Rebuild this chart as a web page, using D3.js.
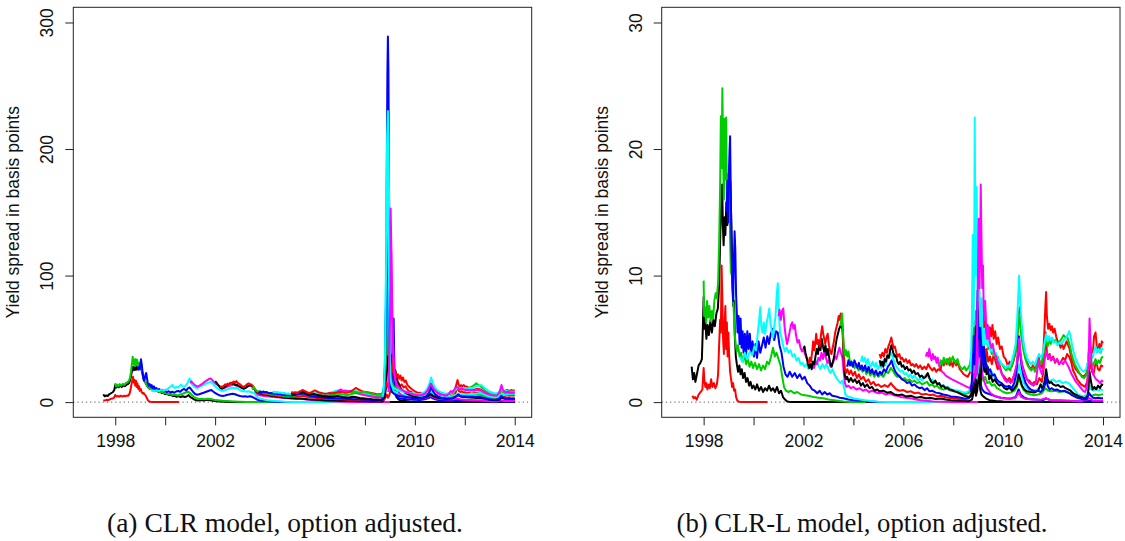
<!DOCTYPE html>
<html><head><meta charset="utf-8">
<script src="https://cdn.jsdelivr.net/npm/d3@7"></script>
<style>body{margin:0;background:#fff}svg{display:block}</style>
</head><body>
<svg id="fig" width="1125" height="541"></svg>
<script>
// ---------- Panel (a): CLR model, option adjusted (year, spread in bp) ----------
const clrBond01 = [1997.52,6.1,1997.58,4.6,1997.64,5.3,1997.7,4.8,1997.76,6.2,1997.83,7.0,1997.9,7.8,1997.96,9.5,1998.0,13.5,1998.04,11.5,1998.09,12.6,1998.14,11.8,1998.2,12.9,1998.26,12.0,1998.32,13.2,1998.38,12.6,1998.44,13.6,1998.5,14.2,1998.56,15.3,1998.61,18.5,1998.65,22.5,1998.69,26.0,1998.72,28.0,1998.75,25.2,1998.79,27.5,1998.83,25.5,1998.87,28.2,1998.91,26.0,1998.95,28.8,1998.99,26.8,1999.03,27.5,1999.07,24.0,1999.11,20.5,1999.15,17.0,1999.19,16.2,1999.23,14.5,1999.28,12.8,1999.33,11.5,1999.38,10.6,1999.44,11.2,1999.5,9.8,1999.56,10.2,1999.62,8.8,1999.68,9.2,1999.74,8.0,1999.8,8.4,1999.86,7.2,1999.92,7.5,1999.98,6.4,2000.06,6.6,2000.14,5.6,2000.22,5.9,2000.3,4.8,2000.38,5.0,2000.46,4.2,2000.54,4.8,2000.62,4.0,2000.7,4.6,2000.78,4.0,2000.86,4.4,2000.94,5.6,2001.0,4.2,2001.08,3.2,2001.16,2.2,2001.24,1.5,2001.34,1.3,2001.45,1.6,2001.56,1.2,2001.68,1.8,2001.8,1.4,2001.92,1.0,2002.05,0.6,2002.2,0.4,2002.4,0.2,2002.7,0.1,2003.0,0,2014.0,0];
const clrBond02 = [1997.52,1.6,1997.58,1.2,1997.65,1.8,1997.72,1.5,1997.8,2.4,1997.88,2.8,1997.95,3.4,1998.0,5.6,1998.05,4.4,1998.1,4.9,1998.16,4.2,1998.22,5.1,1998.28,4.4,1998.34,5.0,1998.4,4.6,1998.46,5.2,1998.52,5.0,1998.57,6.5,1998.61,9.5,1998.65,14.0,1998.68,17.0,1998.71,20.0,1998.74,15.5,1998.77,17.5,1998.8,13.0,1998.83,16.8,1998.86,12.0,1998.89,14.8,1998.92,10.5,1998.95,12.5,1998.98,9.0,1999.02,10.5,1999.06,7.8,1999.1,6.8,1999.14,7.2,1999.18,5.8,1999.22,5.2,1999.26,3.4,1999.3,1.8,1999.34,0.8,1999.4,0.3,1999.48,0.1,1999.6,0,2000.55,0];
const clrBond03 = [1998.0,15.0,1998.03,12.4,1998.08,13.8,1998.13,12.6,1998.18,14.2,1998.24,13.0,1998.3,14.4,1998.36,13.5,1998.42,15.0,1998.48,15.6,1998.54,16.6,1998.59,19.0,1998.63,24.0,1998.67,30.5,1998.7,35.9,1998.73,30.0,1998.76,33.5,1998.79,29.0,1998.82,34.0,1998.85,29.5,1998.88,33.2,1998.91,28.4,1998.95,31.0,1998.99,28.0,1999.03,29.0,1999.07,25.0,1999.11,21.5,1999.15,18.5,1999.19,16.5,1999.24,14.5,1999.3,12.2,1999.36,10.8,1999.42,11.4,1999.48,9.6,1999.55,10.0,1999.62,8.8,1999.7,9.0,1999.78,7.8,1999.86,8.2,1999.94,7.0,2000.02,7.2,2000.1,6.3,2000.2,6.6,2000.3,5.6,2000.4,5.9,2000.5,5.2,2000.6,6.0,2000.7,6.6,2000.8,7.4,2000.9,8.2,2000.97,7.6,2001.05,6.0,2001.15,4.2,2001.25,3.0,2001.35,2.4,2001.45,2.6,2001.58,2.2,2001.7,2.7,2001.82,2.4,2001.95,1.8,2002.1,1.5,2002.3,1.1,2002.5,0.8,2002.75,0.5,2003.0,0.3,2003.3,0.15,2003.6,0.05,2003.9,0,2004.5,0];
const clrBond04 = [1998.92,25.0,1998.95,28.0,1998.98,26.0,1999.01,31.0,1999.03,33.8,1999.06,30.0,1999.09,24.5,1999.12,20.0,1999.15,17.0,1999.18,18.5,1999.21,21.5,1999.24,23.0,1999.27,19.0,1999.3,15.5,1999.34,13.0,1999.38,14.2,1999.42,12.0,1999.46,13.5,1999.5,11.0,1999.55,12.4,1999.6,10.2,1999.65,11.2,1999.7,9.4,1999.76,10.4,1999.82,8.8,1999.88,9.8,1999.94,8.4,2000.0,9.0,2000.07,7.8,2000.14,8.6,2000.21,7.6,2000.28,8.2,2000.36,7.4,2000.44,8.4,2000.52,8.8,2000.6,8.2,2000.68,9.6,2000.76,10.4,2000.84,9.2,2000.92,11.0,2000.98,11.6,2001.05,9.8,2001.12,8.0,2001.2,6.4,2001.28,5.8,2001.36,6.2,2001.45,6.8,2001.54,7.4,2001.62,8.0,2001.7,8.6,2001.78,9.2,2001.85,9.6,2001.92,8.4,2002.0,7.2,2002.1,6.2,2002.2,5.2,2002.3,4.8,2002.4,5.2,2002.5,5.8,2002.6,6.2,2002.7,6.6,2002.8,6.2,2002.9,5.4,2003.0,4.8,2003.1,4.4,2003.2,4.6,2003.3,4.2,2003.4,4.6,2003.5,4.0,2003.6,3.0,2003.7,1.8,2003.85,1.1,2004.0,0.8,2004.2,0.5,2004.45,0.3,2004.7,0.15,2005.0,0.05,2005.4,0,2006.0,0];
const clrBond05 = [1999.45,9.0,1999.55,8.6,1999.65,9.4,1999.75,8.8,1999.85,9.6,1999.95,9.0,2000.03,10.0,2000.1,10.4,2000.17,11.6,2000.23,12.5,2000.28,13.6,2000.33,12.2,2000.39,11.2,2000.45,12.0,2000.52,11.6,2000.58,12.6,2000.64,13.8,2000.7,12.6,2000.76,12.0,2000.82,13.0,2000.88,14.6,2000.93,16.8,2000.98,18.7,2001.02,16.4,2001.07,14.0,2001.13,12.8,2001.2,11.6,2001.28,11.0,2001.36,11.8,2001.44,12.6,2001.52,13.4,2001.6,14.2,2001.68,15.0,2001.76,15.6,2001.83,16.2,2001.9,14.8,2001.98,13.0,2002.06,11.4,2002.14,10.2,2002.22,9.2,2002.3,8.8,2002.38,9.4,2002.46,10.0,2002.54,10.4,2002.62,11.0,2002.7,11.4,2002.78,10.8,2002.86,11.2,2002.94,10.2,2003.02,9.2,2003.1,8.6,2003.18,8.8,2003.26,8.2,2003.34,8.6,2003.42,8.0,2003.5,7.6,2003.58,6.8,2003.65,4.8,2003.72,3.4,2003.82,2.6,2003.95,2.0,2004.1,1.5,2004.3,1.0,2004.55,0.6,2004.8,0.3,2005.1,0.1,2005.5,0,2008.0,0];
const clrBond06 = [2001.0,15.0,2001.05,16.4,2001.1,15.2,2001.16,14.0,2001.22,13.0,2001.28,12.4,2001.35,12.8,2001.42,13.6,2001.5,14.6,2001.57,15.8,2001.64,16.8,2001.7,17.6,2001.76,18.4,2001.82,18.7,2001.88,17.6,2001.94,16.2,2002.0,15.0,2002.07,14.0,2002.14,13.0,2002.21,12.2,2002.28,11.4,2002.35,11.0,2002.42,11.6,2002.5,12.2,2002.58,12.8,2002.66,13.4,2002.74,13.8,2002.82,13.2,2002.9,12.6,2002.98,12.0,2003.06,11.2,2003.14,10.8,2003.22,11.4,2003.3,12.2,2003.38,12.8,2003.45,13.2,2003.52,12.0,2003.58,10.2,2003.64,7.6,2003.7,6.0,2003.78,5.4,2003.88,5.0,2004.0,4.8,2004.15,4.4,2004.3,4.1,2004.45,3.9,2004.6,3.6,2004.75,3.3,2004.9,3.1,2005.05,2.8,2005.2,2.6,2005.35,2.4,2005.5,2.5,2005.65,2.1,2005.8,1.8,2006.0,1.5,2006.2,1.2,2006.4,0.9,2006.6,0.7,2006.85,0.5,2007.1,0.3,2007.4,0.15,2007.7,0.05,2008.0,0,2009.0,0];
const clrBond07 = [2002.0,16.6,2002.04,15.8,2002.08,14.6,2002.13,13.4,2002.18,12.0,2002.23,11.0,2002.28,10.6,2002.33,11.2,2002.38,11.8,2002.43,12.6,2002.48,13.4,2002.53,14.0,2002.58,14.6,2002.63,15.2,2002.68,14.4,2002.73,15.0,2002.78,14.2,2002.83,13.4,2002.88,13.8,2002.93,12.8,2002.98,12.4,2003.04,11.6,2003.1,11.0,2003.16,10.6,2003.22,11.2,2003.28,12.2,2003.34,13.0,2003.4,13.6,2003.46,12.8,2003.52,11.6,2003.58,10.0,2003.64,8.4,2003.7,7.4,2003.77,7.0,2003.85,6.4,2003.95,6.0,2004.05,5.8,2004.15,5.4,2004.25,5.0,2004.35,4.8,2004.45,4.4,2004.55,4.2,2004.65,3.9,2004.75,3.7,2004.85,3.4,2004.95,3.2,2005.1,3.0,2005.25,2.8,2005.4,2.9,2005.55,2.6,2005.7,2.3,2005.85,2.1,2006.0,1.9,2006.2,1.7,2006.4,1.5,2006.6,1.3,2006.8,1.2,2007.0,1.0,2007.25,0.9,2007.5,0.8,2007.75,0.7,2008.0,0.6,2008.25,0.5,2008.5,0.4,2008.7,0.4,2008.8,3.0,2008.84,15.0,2008.88,50.0,2008.92,105.0,2008.95,138.0,2008.98,100.0,2009.01,55.0,2009.04,30.0,2009.08,36.0,2009.12,24.0,2009.16,14.0,2009.2,8.0,2009.26,4.0,2009.35,2.0,2009.5,1.0,2009.8,0.5,2010.2,0.2,2010.8,0.05,2011.2,0,2014.0,0];
const clrBond08 = [2002.2,11.6,2002.25,12.4,2002.3,12.0,2002.35,13.0,2002.4,14.0,2002.45,13.4,2002.5,14.6,2002.55,14.0,2002.6,15.0,2002.65,14.4,2002.7,15.6,2002.75,16.2,2002.8,15.4,2002.85,16.6,2002.9,15.2,2002.95,14.6,2003.0,14.0,2003.05,13.2,2003.1,12.4,2003.15,12.0,2003.2,12.8,2003.25,13.6,2003.3,14.4,2003.35,14.8,2003.4,14.2,2003.45,14.0,2003.5,13.0,2003.55,11.8,2003.6,10.2,2003.66,8.4,2003.72,7.6,2003.8,7.2,2003.9,6.8,2004.0,6.4,2004.1,6.0,2004.2,5.8,2004.3,5.4,2004.4,5.2,2004.5,5.0,2004.6,4.6,2004.7,4.4,2004.8,4.2,2004.9,4.0,2005.0,4.2,2005.12,4.0,2005.25,4.3,2005.38,4.5,2005.5,5.0,2005.6,4.6,2005.72,4.0,2005.85,3.6,2006.0,3.4,2006.15,3.1,2006.3,2.9,2006.45,2.7,2006.6,2.5,2006.75,2.4,2006.9,2.3,2007.05,2.2,2007.2,2.0,2007.35,1.9,2007.5,1.9,2007.65,2.1,2007.8,1.8,2008.0,1.6,2008.2,1.4,2008.4,1.2,2008.6,1.1,2008.75,1.8,2008.83,4.0,2008.88,6.0,2008.92,3.5,2008.97,5.0,2009.02,9.0,2009.06,16.0,2009.1,20.0,2009.14,13.0,2009.18,15.5,2009.23,18.0,2009.28,14.0,2009.33,15.5,2009.4,12.5,2009.47,14.0,2009.55,11.5,2009.62,12.5,2009.7,10.0,2009.78,8.5,2009.86,8.0,2009.95,6.5,2010.05,5.8,2010.15,5.2,2010.25,5.4,2010.35,5.0,2010.45,5.8,2010.55,7.0,2010.62,9.0,2010.68,8.2,2010.75,7.0,2010.85,6.0,2010.95,5.0,2011.05,4.4,2011.15,4.0,2011.25,4.2,2011.35,3.8,2011.45,4.6,2011.55,5.4,2011.62,7.0,2011.68,9.8,2011.72,11.0,2011.77,8.6,2011.82,8.0,2011.88,8.6,2011.94,7.6,2012.0,7.8,2012.08,7.0,2012.16,7.4,2012.24,6.8,2012.32,7.0,2012.4,7.4,2012.48,7.0,2012.56,7.6,2012.64,7.2,2012.72,6.4,2012.8,5.4,2012.88,4.6,2012.96,4.0,2013.04,3.6,2013.12,3.2,2013.2,3.0,2013.28,2.8,2013.36,3.4,2013.44,5.0,2013.5,6.0,2013.56,5.0,2013.62,4.8,2013.7,5.6,2013.78,5.0,2013.86,5.4,2013.94,5.2,2014.0,5.5];
const clrBond09 = [2003.48,10.0,2003.52,11.2,2003.55,12.0,2003.59,10.6,2003.63,9.4,2003.68,8.8,2003.74,8.4,2003.8,8.6,2003.88,7.8,2003.96,7.4,2004.05,7.0,2004.15,6.6,2004.25,6.2,2004.35,6.0,2004.45,5.8,2004.55,5.4,2004.65,5.2,2004.75,4.9,2004.85,4.6,2004.95,4.5,2005.05,4.8,2005.15,5.0,2005.25,5.4,2005.35,5.8,2005.45,6.2,2005.52,6.6,2005.6,6.0,2005.7,5.4,2005.8,5.0,2005.9,5.2,2006.0,5.8,2006.1,6.2,2006.2,5.8,2006.3,5.4,2006.4,5.0,2006.5,5.2,2006.6,5.6,2006.7,6.0,2006.8,6.4,2006.9,6.8,2007.0,6.4,2007.1,6.0,2007.2,5.8,2007.3,5.6,2007.4,6.0,2007.5,6.6,2007.6,7.2,2007.7,7.0,2007.8,6.4,2007.9,6.0,2008.0,5.8,2008.1,5.4,2008.2,5.0,2008.3,4.8,2008.4,4.6,2008.5,4.4,2008.6,4.6,2008.7,5.4,2008.78,9.0,2008.83,22.0,2008.87,40.0,2008.9,55.0,2008.93,40.0,2008.97,22.0,2009.01,14.0,2009.06,12.0,2009.12,9.0,2009.2,7.4,2009.3,6.4,2009.42,5.8,2009.55,5.2,2009.7,4.6,2009.85,4.2,2010.0,3.8,2010.15,3.6,2010.3,3.8,2010.45,4.4,2010.55,5.6,2010.63,7.0,2010.7,6.2,2010.8,5.0,2010.92,4.2,2011.05,3.6,2011.2,3.2,2011.35,3.4,2011.5,3.8,2011.62,4.6,2011.72,5.6,2011.8,5.0,2011.9,5.2,2012.0,5.0,2012.12,5.2,2012.24,5.4,2012.36,5.8,2012.46,6.2,2012.56,5.8,2012.66,5.4,2012.76,4.6,2012.86,3.8,2012.96,3.2,2013.08,2.8,2013.2,2.5,2013.32,2.6,2013.44,3.6,2013.52,3.2,2013.62,3.0,2013.74,3.4,2013.86,3.2,2014.0,3.4];
const clrBond10 = [2003.75,7.0,2003.8,8.2,2003.86,7.6,2003.92,8.4,2003.98,7.8,2004.05,8.0,2004.12,7.4,2004.2,7.0,2004.28,7.2,2004.36,6.6,2004.44,6.8,2004.52,6.2,2004.6,6.4,2004.68,5.8,2004.76,6.0,2004.84,5.4,2004.92,5.6,2005.0,5.2,2005.1,5.4,2005.2,5.6,2005.3,6.0,2005.4,6.4,2005.5,7.0,2005.58,6.4,2005.66,5.8,2005.75,5.2,2005.85,4.8,2005.95,4.6,2006.05,4.2,2006.15,4.0,2006.25,3.8,2006.35,3.6,2006.45,3.4,2006.55,3.3,2006.65,3.2,2006.75,3.2,2006.85,3.0,2006.95,3.1,2007.1,2.8,2007.25,2.6,2007.4,2.5,2007.55,2.3,2007.7,2.2,2007.85,2.0,2008.0,1.9,2008.15,1.8,2008.3,1.6,2008.45,1.5,2008.6,1.5,2008.7,2.0,2008.75,5.0,2008.79,15.0,2008.83,45.0,2008.86,120.0,2008.88,200.0,2008.9,260.0,2008.92,289.0,2008.94,265.0,2008.96,200.0,2008.98,120.0,2009.0,50.0,2009.03,18.0,2009.07,10.0,2009.1,25.0,2009.13,55.0,2009.15,66.0,2009.17,40.0,2009.2,15.0,2009.25,6.0,2009.32,3.5,2009.42,2.8,2009.55,2.5,2009.7,2.2,2009.85,2.0,2010.0,1.8,2010.2,1.7,2010.4,2.2,2010.55,3.2,2010.63,4.2,2010.72,3.0,2010.85,2.0,2011.0,1.5,2011.2,1.2,2011.4,1.0,2011.6,1.2,2011.72,1.8,2011.85,1.2,2012.0,1.0,2012.2,0.9,2012.4,0.85,2012.6,0.8,2012.8,0.6,2013.0,0.4,2013.2,0.3,2013.45,0.7,2013.6,0.5,2013.8,0.5,2014.0,0.5];
const clrBond11 = [2004.3,7.6,2004.36,8.2,2004.42,7.6,2004.48,8.0,2004.55,7.4,2004.62,7.6,2004.7,7.0,2004.78,7.2,2004.86,6.6,2004.94,6.8,2005.02,6.4,2005.1,6.8,2005.2,7.2,2005.3,7.6,2005.4,8.0,2005.48,8.6,2005.55,8.8,2005.62,8.0,2005.7,7.2,2005.8,6.8,2005.9,6.6,2006.0,7.2,2006.1,7.6,2006.2,7.2,2006.3,6.8,2006.4,6.6,2006.5,6.8,2006.6,7.4,2006.7,8.0,2006.8,8.6,2006.9,9.2,2007.0,8.8,2007.1,8.4,2007.2,7.8,2007.3,7.4,2007.4,7.8,2007.5,8.4,2007.6,8.8,2007.7,8.6,2007.8,7.8,2007.9,7.2,2008.0,7.0,2008.1,6.6,2008.2,6.4,2008.3,6.0,2008.4,5.8,2008.5,5.6,2008.6,5.8,2008.7,6.8,2008.75,12.0,2008.79,30.0,2008.83,80.0,2008.86,150.0,2008.89,210.0,2008.92,230.0,2008.95,205.0,2008.97,150.0,2009.0,70.0,2009.03,28.0,2009.06,14.0,2009.1,10.0,2009.16,8.8,2009.24,7.6,2009.34,6.8,2009.46,6.0,2009.6,5.4,2009.75,5.0,2009.9,4.6,2010.05,4.2,2010.2,4.0,2010.35,4.4,2010.48,5.4,2010.56,7.0,2010.63,8.6,2010.7,7.2,2010.8,5.8,2010.92,4.8,2011.05,4.2,2011.2,3.8,2011.35,4.0,2011.5,4.6,2011.62,5.6,2011.72,6.6,2011.82,6.0,2011.92,6.2,2012.02,6.0,2012.14,6.2,2012.26,6.4,2012.38,6.6,2012.5,6.8,2012.62,7.2,2012.7,6.8,2012.8,5.8,2012.9,5.0,2013.0,4.4,2013.12,4.0,2013.24,3.8,2013.36,4.4,2013.46,7.0,2013.54,5.6,2013.64,5.8,2013.74,6.4,2013.86,6.2,2014.0,6.5];
const clrBond12 = [2006.9,8.4,2006.96,9.2,2007.02,10.0,2007.08,9.4,2007.14,8.8,2007.22,9.2,2007.3,8.6,2007.38,8.8,2007.46,8.2,2007.55,7.6,2007.65,7.2,2007.75,6.8,2007.85,6.2,2007.95,5.8,2008.05,5.2,2008.15,4.8,2008.25,4.4,2008.35,4.0,2008.45,3.8,2008.55,3.6,2008.65,3.6,2008.74,4.5,2008.82,12.0,2008.88,30.0,2008.93,70.0,2008.97,110.0,2009.0,140.0,2009.03,153.0,2009.06,120.0,2009.09,80.0,2009.12,50.0,2009.16,30.0,2009.21,18.0,2009.28,11.0,2009.38,7.0,2009.5,5.0,2009.65,4.0,2009.8,3.4,2010.0,3.0,2010.2,2.8,2010.4,3.2,2010.55,4.2,2010.63,5.6,2010.72,4.2,2010.85,3.0,2011.0,2.5,2011.2,2.2,2011.4,2.0,2011.6,2.2,2011.72,2.8,2011.85,2.0,2012.0,1.8,2012.25,1.6,2012.5,1.4,2012.75,1.1,2013.0,0.7,2013.25,0.5,2013.46,1.5,2013.6,0.8,2013.8,0.8,2014.0,0.8];
const clrBond13 = [2005.05,7.0,2005.1,6.2,2005.15,6.8,2005.2,6.4,2005.26,7.4,2005.32,7.0,2005.38,7.8,2005.44,7.6,2005.5,8.4,2005.56,8.0,2005.62,7.2,2005.7,6.4,2005.78,6.0,2005.86,6.4,2005.94,6.6,2006.02,6.0,2006.1,5.6,2006.2,5.2,2006.3,4.8,2006.4,4.6,2006.5,4.4,2006.6,4.2,2006.7,4.4,2006.8,4.6,2006.9,4.8,2007.0,4.4,2007.1,4.0,2007.2,3.8,2007.3,3.6,2007.4,3.8,2007.5,4.2,2007.6,4.0,2007.7,3.6,2007.8,3.2,2007.9,3.0,2008.0,2.8,2008.15,2.5,2008.3,2.2,2008.45,2.0,2008.6,1.8,2008.7,2.0,2008.78,4.0,2008.84,12.0,2008.88,24.0,2008.92,36.0,2008.96,28.0,2009.0,22.0,2009.04,26.0,2009.08,31.0,2009.11,38.0,2009.14,28.0,2009.18,22.0,2009.22,25.0,2009.27,19.0,2009.32,16.0,2009.38,13.0,2009.45,10.5,2009.52,9.0,2009.6,7.6,2009.7,6.6,2009.8,5.6,2009.9,4.8,2010.0,4.0,2010.15,3.6,2010.3,3.4,2010.45,4.0,2010.55,5.0,2010.63,6.4,2010.72,5.0,2010.85,3.8,2011.0,3.0,2011.15,2.8,2011.3,2.6,2011.45,3.0,2011.58,3.8,2011.68,4.8,2011.74,5.6,2011.82,4.4,2011.92,4.0,2012.05,3.8,2012.2,3.6,2012.35,3.4,2012.5,3.2,2012.65,3.0,2012.8,2.6,2012.95,2.0,2013.1,1.6,2013.25,1.4,2013.38,1.8,2013.46,4.0,2013.54,3.0,2013.64,2.4,2013.76,2.8,2013.88,2.5,2014.0,2.6];
const clrBond14 = [2005.05,8.0,2005.12,7.4,2005.2,7.8,2005.28,7.2,2005.36,8.2,2005.44,8.8,2005.5,9.6,2005.56,9.0,2005.62,8.4,2005.7,7.6,2005.78,7.2,2005.86,7.8,2005.94,8.6,2006.0,9.2,2006.06,8.6,2006.14,7.8,2006.22,7.4,2006.3,7.0,2006.4,6.6,2006.5,6.8,2006.6,7.2,2006.7,7.0,2006.8,7.4,2006.9,7.8,2007.0,8.2,2007.1,7.8,2007.2,7.4,2007.3,7.6,2007.4,8.2,2007.5,9.2,2007.58,10.4,2007.64,11.2,2007.7,10.4,2007.78,9.6,2007.86,8.8,2007.95,8.2,2008.05,8.0,2008.15,7.6,2008.25,7.2,2008.35,6.8,2008.45,6.4,2008.55,6.2,2008.65,6.2,2008.72,7.0,2008.78,9.0,2008.83,12.0,2008.87,16.0,2008.91,12.0,2008.95,14.0,2009.0,11.0,2009.04,16.0,2009.08,26.0,2009.11,35.0,2009.14,26.0,2009.18,21.0,2009.22,24.0,2009.27,20.0,2009.32,22.0,2009.37,18.5,2009.42,21.0,2009.47,17.0,2009.52,19.5,2009.58,16.0,2009.64,17.0,2009.7,13.5,2009.78,12.0,2009.86,10.5,2009.94,9.2,2010.04,8.0,2010.14,7.2,2010.24,7.4,2010.34,6.8,2010.44,7.8,2010.52,9.4,2010.58,11.6,2010.64,13.4,2010.7,12.0,2010.76,10.2,2010.84,9.0,2010.92,8.0,2011.0,7.2,2011.1,6.4,2011.2,5.8,2011.3,6.2,2011.4,6.8,2011.48,7.4,2011.56,8.8,2011.62,11.0,2011.67,14.5,2011.71,17.4,2011.75,14.0,2011.8,12.0,2011.85,13.4,2011.9,12.6,2011.96,13.4,2012.02,12.0,2012.08,12.4,2012.14,11.4,2012.2,10.8,2012.28,10.0,2012.36,9.8,2012.44,10.2,2012.52,10.6,2012.6,10.2,2012.68,9.4,2012.76,8.4,2012.84,7.6,2012.92,7.0,2013.0,6.6,2013.1,6.2,2013.2,5.8,2013.3,6.2,2013.38,7.4,2013.44,8.8,2013.5,9.6,2013.56,8.6,2013.62,8.8,2013.68,9.6,2013.74,9.2,2013.8,8.8,2013.86,9.6,2013.92,9.0,2014.0,9.4];
const clrBond15 = [2007.45,6.8,2007.52,7.4,2007.6,8.0,2007.68,7.8,2007.76,7.4,2007.84,7.6,2007.92,8.0,2008.0,8.2,2008.08,7.6,2008.16,7.2,2008.24,6.8,2008.32,6.4,2008.4,6.0,2008.48,5.8,2008.56,6.0,2008.64,6.2,2008.72,7.2,2008.78,12.0,2008.83,30.0,2008.87,60.0,2008.9,95.0,2008.93,70.0,2008.96,40.0,2009.0,22.0,2009.04,16.0,2009.1,14.0,2009.16,12.4,2009.24,11.0,2009.32,10.0,2009.42,9.2,2009.52,8.6,2009.64,8.0,2009.76,7.4,2009.88,6.8,2010.0,6.4,2010.12,6.2,2010.24,6.4,2010.36,7.0,2010.46,8.4,2010.54,10.4,2010.6,12.8,2010.65,14.8,2010.7,13.0,2010.76,11.0,2010.84,9.4,2010.92,8.2,2011.0,7.2,2011.1,6.6,2011.2,6.0,2011.3,5.8,2011.4,6.4,2011.5,7.2,2011.58,8.4,2011.66,10.0,2011.72,11.4,2011.8,10.4,2011.88,10.8,2011.96,10.2,2012.04,10.6,2012.12,11.0,2012.2,11.6,2012.28,12.2,2012.36,13.2,2012.42,14.2,2012.46,14.8,2012.52,13.8,2012.58,13.2,2012.66,12.0,2012.74,10.6,2012.82,9.4,2012.9,8.4,2012.98,7.6,2013.08,6.8,2013.18,6.2,2013.28,6.0,2013.38,6.8,2013.46,8.8,2013.52,8.0,2013.6,7.2,2013.7,7.6,2013.8,7.0,2013.9,7.2,2014.0,7.0];
const clrBond16 = [2008.7,2.5,2008.75,6.0,2008.8,25.0,2008.84,70.0,2008.87,120.0,2008.9,150.0,2008.93,120.0,2008.96,70.0,2008.99,30.0,2009.03,12.0,2009.08,8.0,2009.14,7.0,2009.2,6.0,2009.3,5.2,2009.42,4.6,2009.55,4.2,2009.7,3.8,2009.85,3.4,2010.0,3.0,2010.15,2.9,2010.3,3.2,2010.42,4.0,2010.5,5.4,2010.57,7.6,2010.62,10.0,2010.66,12.6,2010.7,10.0,2010.76,7.6,2010.84,5.6,2010.94,4.2,2011.05,3.4,2011.2,2.9,2011.35,2.7,2011.5,3.0,2011.6,3.8,2011.68,5.0,2011.74,6.0,2011.8,5.0,2011.9,4.6,2012.0,4.4,2012.12,4.2,2012.24,4.0,2012.36,4.1,2012.48,4.2,2012.6,4.0,2012.72,3.4,2012.84,2.8,2012.96,2.3,2013.1,2.0,2013.24,1.8,2013.36,2.4,2013.46,5.0,2013.54,3.6,2013.64,2.8,2013.76,2.6,2013.88,2.4,2014.0,2.5];
const clrBond17 = [2008.7,4.0,2008.75,8.0,2008.8,30.0,2008.84,90.0,2008.87,150.0,2008.9,180.0,2008.93,160.0,2008.96,100.0,2008.99,45.0,2009.02,20.0,2009.06,14.0,2009.1,12.0,2009.16,11.0,2009.24,10.0,2009.34,9.2,2009.46,8.6,2009.6,8.0,2009.74,7.4,2009.88,7.0,2010.0,6.6,2010.12,6.2,2010.24,6.6,2010.36,7.6,2010.46,9.4,2010.54,12.4,2010.6,15.6,2010.65,19.5,2010.69,17.0,2010.74,14.0,2010.8,11.6,2010.88,9.8,2010.96,8.6,2011.06,7.6,2011.16,7.0,2011.26,6.6,2011.36,7.0,2011.46,7.8,2011.56,8.8,2011.64,10.0,2011.72,11.6,2011.8,10.8,2011.88,11.2,2011.96,10.6,2012.04,11.0,2012.12,10.8,2012.2,11.2,2012.28,11.0,2012.36,11.6,2012.44,12.2,2012.52,12.8,2012.6,13.2,2012.66,13.6,2012.72,12.6,2012.8,11.0,2012.88,9.6,2012.96,8.6,2013.06,7.8,2013.16,7.2,2013.26,6.8,2013.36,7.6,2013.44,10.0,2013.5,9.4,2013.58,8.4,2013.68,8.8,2013.78,8.2,2013.9,8.4,2014.0,8.0];
const clrBond18 = [2008.94,8.0,2008.97,30.0,2009.0,60.0,2009.03,100.0,2009.05,120.0,2009.08,75.0,2009.11,45.0,2009.15,30.0,2009.2,20.0,2009.26,15.0,2009.33,12.4,2009.42,10.6,2009.52,9.2,2009.64,8.0,2009.78,7.0,2009.92,6.2,2010.06,5.6,2010.2,5.4,2010.32,6.0,2010.44,7.4,2010.52,9.6,2010.58,12.0,2010.64,14.6,2010.68,13.0,2010.74,10.8,2010.82,8.8,2010.9,7.4,2011.0,6.4,2011.1,5.8,2011.2,5.2,2011.3,5.6,2011.38,7.0,2011.44,8.8,2011.5,8.0,2011.56,9.2,2011.62,11.0,2011.68,12.0,2011.74,11.2,2011.8,10.2,2011.88,10.6,2011.96,10.0,2012.04,9.6,2012.12,9.8,2012.2,9.2,2012.28,9.4,2012.36,9.0,2012.44,9.6,2012.52,9.8,2012.6,9.4,2012.68,8.6,2012.76,7.8,2012.84,7.0,2012.92,6.4,2013.0,5.8,2013.1,5.4,2013.2,5.0,2013.3,5.2,2013.38,7.6,2013.44,11.0,2013.47,13.5,2013.52,10.0,2013.58,8.4,2013.66,7.8,2013.74,8.2,2013.82,7.6,2013.9,7.8,2014.0,7.5];

// ---------- Panel (b): CLR-L model, option adjusted (year, spread in bp) ----------
const clrlBond01 = [1997.52,2.8,1997.57,1.8,1997.62,2.3,1997.67,1.6,1997.73,2.2,1997.8,2.9,1997.87,3.1,1997.93,3.4,1997.97,6.0,1998.0,8.3,1998.03,5.8,1998.07,6.3,1998.11,5.0,1998.16,6.1,1998.21,5.3,1998.27,6.4,1998.33,5.5,1998.39,6.5,1998.45,6.0,1998.51,7.0,1998.57,7.4,1998.62,9.2,1998.67,13.5,1998.71,15.8,1998.74,17.2,1998.77,14.0,1998.8,12.4,1998.84,14.6,1998.87,13.2,1998.91,15.8,1998.95,14.0,1998.99,16.5,1999.03,15.2,1999.07,17.4,1999.1,15.0,1999.13,12.3,1999.16,9.0,1999.19,7.6,1999.22,8.0,1999.25,5.2,1999.29,3.6,1999.33,3.0,1999.38,2.4,1999.43,2.9,1999.48,2.2,1999.53,2.6,1999.58,1.9,1999.64,2.3,1999.7,1.6,1999.76,1.9,1999.82,1.3,1999.88,1.6,1999.94,1.1,2000.0,1.3,2000.07,1.0,2000.14,1.4,2000.22,0.9,2000.3,1.2,2000.38,0.8,2000.46,1.1,2000.54,0.9,2000.62,1.3,2000.7,0.9,2000.78,1.1,2000.86,0.8,2000.94,1.2,2001.02,0.7,2001.1,0.9,2001.18,0.4,2001.26,0.2,2001.35,0.05,2001.5,0,2014.0,0];
const clrlBond02 = [1997.55,0.5,1997.6,0.3,1997.66,0.4,1997.72,0.2,1997.8,0.6,1997.88,0.8,1997.95,1.0,1998.0,2.7,1998.03,1.7,1998.07,1.2,1998.11,1.5,1998.15,1.0,1998.2,1.4,1998.25,1.1,1998.3,1.8,1998.35,1.2,1998.41,1.5,1998.47,1.1,1998.53,1.4,1998.58,2.2,1998.62,4.5,1998.66,6.5,1998.69,5.5,1998.72,10.8,1998.75,8.0,1998.78,5.0,1998.81,3.8,1998.84,6.0,1998.87,7.6,1998.9,4.2,1998.93,6.3,1998.96,3.6,1998.99,5.5,1999.02,3.8,1999.06,2.4,1999.1,1.8,1999.14,1.2,1999.18,1.5,1999.22,0.9,1999.26,1.0,1999.3,0.4,1999.35,0.12,1999.42,0.03,1999.5,0,2000.55,0];
const clrlBond03 = [1998.0,9.6,1998.02,6.8,1998.06,7.5,1998.1,6.3,1998.14,8.0,1998.18,6.7,1998.23,7.6,1998.28,6.4,1998.33,7.2,1998.38,6.6,1998.43,8.0,1998.48,8.6,1998.53,8.2,1998.58,9.5,1998.62,12.5,1998.66,17.0,1998.69,22.6,1998.72,18.5,1998.75,24.8,1998.78,19.5,1998.81,16.0,1998.84,22.4,1998.87,17.6,1998.9,22.5,1998.93,16.5,1998.96,18.0,1998.99,15.4,1999.03,17.0,1999.06,13.0,1999.09,10.3,1999.13,10.0,1999.17,10.2,1999.2,7.6,1999.24,5.5,1999.28,4.6,1999.33,4.0,1999.38,4.5,1999.44,3.6,1999.5,3.9,1999.56,3.2,1999.63,3.7,1999.7,3.0,1999.77,3.4,1999.84,2.8,1999.91,3.2,1999.98,2.7,2000.06,3.1,2000.14,2.6,2000.22,3.0,2000.3,2.5,2000.38,2.9,2000.46,2.6,2000.54,3.2,2000.62,3.0,2000.7,3.6,2000.78,4.3,2000.85,3.6,2000.92,3.9,2001.0,3.4,2001.08,2.9,2001.15,2.0,2001.22,1.2,2001.3,0.9,2001.4,0.8,2001.5,0.9,2001.62,0.7,2001.75,0.8,2001.9,0.6,2002.05,0.55,2002.2,0.5,2002.4,0.4,2002.6,0.35,2002.8,0.3,2003.0,0.2,2003.3,0.12,2003.6,0.05,2003.9,0,2004.5,0];
const clrlBond04 = [1998.92,15.0,1998.95,17.5,1998.98,14.2,1999.01,18.0,1999.04,20.0,1999.06,21.0,1999.09,16.0,1999.12,12.0,1999.15,9.5,1999.18,8.0,1999.21,11.0,1999.24,13.5,1999.27,12.0,1999.3,8.5,1999.33,7.0,1999.36,5.5,1999.4,6.8,1999.44,4.6,1999.48,6.6,1999.52,4.3,1999.56,5.6,1999.6,3.9,1999.65,5.4,1999.7,3.7,1999.75,5.6,1999.8,4.2,1999.85,5.4,1999.9,3.9,1999.96,4.8,2000.02,3.6,2000.08,4.6,2000.14,3.5,2000.2,4.8,2000.27,3.9,2000.34,4.5,2000.41,5.1,2000.48,4.3,2000.55,5.2,2000.62,4.6,2000.69,5.4,2000.76,5.8,2000.83,4.9,2000.9,5.6,2000.97,5.5,2001.04,4.5,2001.12,3.9,2001.2,2.8,2001.28,2.2,2001.36,2.0,2001.45,2.4,2001.55,2.0,2001.65,2.3,2001.75,1.9,2001.85,2.2,2001.95,1.8,2002.05,2.0,2002.15,1.5,2002.25,1.3,2002.35,1.0,2002.45,0.9,2002.55,0.7,2002.65,0.9,2002.75,0.6,2002.85,0.8,2002.95,0.6,2003.05,0.7,2003.15,0.5,2003.3,0.45,2003.45,0.35,2003.6,0.3,2003.8,0.2,2004.0,0.15,2004.3,0.1,2004.7,0.05,2005.0,0,2006.0,0];
const clrlBond05 = [1999.45,3.6,1999.55,3.2,1999.65,3.9,1999.75,3.4,1999.85,4.0,1999.95,3.7,2000.03,4.4,2000.1,4.1,2000.16,5.3,2000.22,6.4,2000.27,7.5,2000.31,6.0,2000.36,5.5,2000.41,6.3,2000.46,5.4,2000.52,6.2,2000.58,6.8,2000.63,7.4,2000.68,6.2,2000.73,5.6,2000.78,5.1,2000.83,6.0,2000.88,6.8,2000.93,8.5,2000.97,9.4,2001.01,7.2,2001.06,5.5,2001.12,5.1,2001.18,4.5,2001.25,4.0,2001.32,4.3,2001.4,3.9,2001.48,4.1,2001.56,3.6,2001.64,3.8,2001.72,3.3,2001.8,3.5,2001.88,3.0,2001.96,3.1,2002.04,2.8,2002.12,3.0,2002.2,2.6,2002.28,2.9,2002.36,3.2,2002.44,2.8,2002.52,3.3,2002.6,2.9,2002.68,2.6,2002.76,3.0,2002.84,2.7,2002.92,3.0,2003.0,2.6,2003.08,2.3,2003.16,2.6,2003.24,2.2,2003.32,1.9,2003.4,1.7,2003.48,1.5,2003.56,1.7,2003.62,1.2,2003.68,0.6,2003.76,0.45,2003.86,0.4,2004.0,0.3,2004.2,0.22,2004.45,0.15,2004.7,0.08,2005.0,0.03,2005.4,0,2008.0,0];
const clrlBond06 = [2001.0,6.8,2001.04,7.3,2001.09,6.5,2001.14,7.2,2001.19,7.4,2001.24,6.0,2001.29,5.2,2001.34,4.6,2001.39,5.0,2001.44,5.5,2001.5,6.1,2001.55,6.3,2001.6,5.8,2001.65,6.1,2001.7,5.3,2001.76,4.7,2001.82,4.9,2001.88,4.3,2001.94,4.0,2002.0,4.2,2002.06,3.8,2002.12,3.5,2002.18,3.2,2002.24,3.0,2002.3,2.8,2002.36,3.1,2002.42,2.7,2002.48,3.2,2002.54,3.0,2002.6,3.5,2002.66,3.3,2002.72,3.9,2002.78,3.4,2002.84,4.0,2002.9,3.5,2002.96,3.1,2003.02,3.3,2003.08,2.8,2003.14,3.0,2003.2,3.2,2003.26,3.6,2003.32,3.4,2003.38,3.9,2003.44,4.3,2003.5,3.9,2003.56,3.5,2003.61,2.4,2003.66,1.5,2003.72,1.2,2003.8,1.3,2003.9,1.1,2004.0,1.2,2004.12,1.0,2004.25,1.1,2004.38,0.9,2004.5,1.0,2004.62,0.8,2004.75,0.9,2004.88,0.8,2005.0,0.7,2005.15,0.75,2005.3,0.6,2005.45,0.7,2005.6,0.55,2005.75,0.5,2005.9,0.4,2006.1,0.35,2006.3,0.3,2006.5,0.2,2006.7,0.15,2006.9,0.1,2007.2,0.05,2007.6,0.02,2008.0,0,2009.0,0];
const clrlBond07 = [2002.0,4.2,2002.04,4.4,2002.08,3.9,2002.13,3.5,2002.18,3.0,2002.23,2.7,2002.28,3.0,2002.33,2.6,2002.38,3.2,2002.43,3.0,2002.48,3.6,2002.53,4.2,2002.58,3.8,2002.63,4.6,2002.68,4.1,2002.73,5.0,2002.78,4.4,2002.83,4.0,2002.88,4.5,2002.93,3.7,2002.98,4.2,2003.03,3.5,2003.08,3.0,2003.13,2.8,2003.18,3.2,2003.23,3.6,2003.28,4.4,2003.33,5.0,2003.38,5.4,2003.43,5.8,2003.48,6.0,2003.53,6.3,2003.57,5.5,2003.61,3.5,2003.65,2.2,2003.7,1.8,2003.75,2.0,2003.82,1.6,2003.9,1.9,2003.98,1.6,2004.06,1.8,2004.14,1.5,2004.22,1.7,2004.3,1.3,2004.38,1.5,2004.46,1.2,2004.55,1.4,2004.65,1.1,2004.75,1.2,2004.85,0.9,2004.95,1.0,2005.05,0.85,2005.2,0.9,2005.35,0.75,2005.5,0.8,2005.65,0.6,2005.8,0.55,2005.95,0.6,2006.1,0.45,2006.3,0.5,2006.5,0.35,2006.7,0.4,2006.9,0.3,2007.1,0.32,2007.3,0.25,2007.5,0.28,2007.7,0.2,2007.9,0.15,2008.1,0.12,2008.35,0.1,2008.6,0.06,2008.75,0.2,2008.82,0.8,2008.87,1.6,2008.91,0.5,2008.96,0.9,2009.0,2.6,2009.04,3.0,2009.08,1.0,2009.13,0.6,2009.2,0.45,2009.3,0.3,2009.45,0.15,2009.7,0.08,2010.0,0.04,2010.5,0.02,2011.0,0,2014.0,0];
const clrlBond08 = [2002.2,3.0,2002.25,3.5,2002.3,3.2,2002.35,4.0,2002.39,4.8,2002.43,4.1,2002.47,4.6,2002.51,5.4,2002.55,4.6,2002.6,4.9,2002.65,4.4,2002.7,5.3,2002.75,6.0,2002.79,5.4,2002.83,5.0,2002.87,4.6,2002.92,5.1,2002.97,5.4,2003.02,4.5,2003.07,4.0,2003.12,3.8,2003.17,4.3,2003.22,4.8,2003.27,5.5,2003.32,5.9,2003.37,6.3,2003.41,6.8,2003.45,6.5,2003.49,7.0,2003.53,6.6,2003.57,5.8,2003.61,4.0,2003.65,2.7,2003.7,2.3,2003.76,2.6,2003.83,2.2,2003.9,2.5,2003.98,2.1,2004.06,2.4,2004.14,1.9,2004.22,2.2,2004.3,1.8,2004.4,2.0,2004.5,1.6,2004.6,1.8,2004.7,1.4,2004.8,1.6,2004.9,1.3,2005.0,1.4,2005.12,1.2,2005.25,1.35,2005.38,1.2,2005.5,1.5,2005.6,1.25,2005.72,1.0,2005.85,0.9,2006.0,0.95,2006.15,0.8,2006.3,0.85,2006.45,0.7,2006.6,0.75,2006.75,0.6,2006.9,0.65,2007.05,0.55,2007.2,0.6,2007.35,0.45,2007.5,0.5,2007.65,0.4,2007.8,0.35,2008.0,0.3,2008.2,0.25,2008.45,0.2,2008.65,0.35,2008.78,1.0,2008.84,2.2,2008.88,4.0,2008.92,2.5,2008.96,2.0,2009.0,3.2,2009.05,4.5,2009.09,5.5,2009.13,3.5,2009.18,3.0,2009.23,4.4,2009.28,3.6,2009.33,4.2,2009.4,3.2,2009.47,3.6,2009.55,3.0,2009.62,3.8,2009.7,3.2,2009.78,2.6,2009.86,2.9,2009.95,2.2,2010.05,2.0,2010.15,1.7,2010.25,1.9,2010.35,1.6,2010.45,2.2,2010.55,2.8,2010.62,4.5,2010.68,3.8,2010.75,3.0,2010.85,2.4,2010.95,1.8,2011.05,1.7,2011.15,1.4,2011.25,1.6,2011.35,1.4,2011.45,1.9,2011.55,1.6,2011.62,2.6,2011.7,5.5,2011.75,4.0,2011.8,3.4,2011.86,3.8,2011.92,3.3,2012.0,3.6,2012.08,3.1,2012.16,3.4,2012.24,3.0,2012.32,3.2,2012.4,3.5,2012.48,3.3,2012.56,3.8,2012.64,3.6,2012.72,3.2,2012.8,2.5,2012.88,2.2,2012.96,1.8,2013.04,1.6,2013.12,1.4,2013.2,1.3,2013.28,1.2,2013.36,1.6,2013.44,2.5,2013.5,3.2,2013.56,2.4,2013.62,2.2,2013.68,2.9,2013.74,3.1,2013.8,2.6,2013.86,2.5,2013.92,2.9,2014.0,2.8];
const clrlBond09 = [2003.48,6.0,2003.52,6.6,2003.55,7.0,2003.58,5.6,2003.62,4.3,2003.66,3.7,2003.7,4.1,2003.75,3.6,2003.8,4.0,2003.86,3.2,2003.92,2.9,2003.98,3.1,2004.05,2.7,2004.12,3.0,2004.2,2.5,2004.28,2.8,2004.36,2.4,2004.44,2.7,2004.52,2.2,2004.6,2.5,2004.68,2.1,2004.76,2.4,2004.84,2.0,2004.92,2.3,2005.0,2.0,2005.1,2.2,2005.2,2.0,2005.3,2.4,2005.4,2.3,2005.5,2.7,2005.58,2.5,2005.66,2.2,2005.75,2.0,2005.85,2.1,2005.95,1.8,2006.05,1.9,2006.15,1.7,2006.25,1.8,2006.35,1.6,2006.45,1.7,2006.55,1.5,2006.65,1.6,2006.75,1.4,2006.85,1.5,2006.95,1.6,2007.05,1.3,2007.15,1.4,2007.25,1.2,2007.35,1.3,2007.45,1.1,2007.6,1.0,2007.75,1.05,2007.9,0.9,2008.05,0.85,2008.2,0.8,2008.35,0.7,2008.5,0.65,2008.65,0.75,2008.78,1.4,2008.84,2.6,2008.88,1.8,2008.93,2.2,2008.98,1.5,2009.03,2.4,2009.08,3.0,2009.13,2.0,2009.2,1.7,2009.28,2.0,2009.36,1.5,2009.45,1.6,2009.55,1.3,2009.65,1.4,2009.75,1.1,2009.85,1.0,2010.0,0.8,2010.15,0.7,2010.3,0.75,2010.45,0.9,2010.55,1.2,2010.63,2.0,2010.7,1.5,2010.8,1.0,2010.95,0.7,2011.1,0.6,2011.25,0.55,2011.4,0.6,2011.55,0.7,2011.7,1.1,2011.8,0.9,2011.95,0.85,2012.1,0.9,2012.25,0.8,2012.4,0.85,2012.55,0.8,2012.7,0.7,2012.85,0.5,2013.0,0.35,2013.15,0.3,2013.3,0.3,2013.45,0.6,2013.55,0.5,2013.7,0.6,2013.85,0.55,2014.0,0.63];
const clrlBond10 = [2003.75,2.8,2003.8,3.3,2003.86,2.9,2003.92,3.2,2003.98,2.8,2004.04,3.3,2004.1,3.0,2004.16,2.7,2004.22,3.1,2004.28,2.6,2004.34,2.9,2004.4,2.5,2004.47,2.9,2004.54,2.4,2004.61,2.8,2004.68,2.3,2004.75,2.6,2004.82,2.2,2004.9,2.5,2004.98,2.1,2005.06,2.4,2005.14,2.2,2005.22,2.6,2005.3,2.4,2005.38,2.8,2005.46,3.0,2005.53,3.3,2005.6,2.8,2005.68,2.4,2005.76,2.2,2005.85,2.0,2005.95,1.8,2006.05,1.7,2006.15,1.5,2006.25,1.6,2006.35,1.3,2006.45,1.4,2006.55,1.2,2006.65,1.1,2006.75,1.15,2006.85,0.95,2006.95,1.1,2007.05,0.85,2007.15,0.9,2007.3,0.75,2007.45,0.7,2007.6,0.6,2007.75,0.55,2007.9,0.45,2008.05,0.42,2008.2,0.38,2008.4,0.3,2008.6,0.28,2008.72,0.5,2008.8,1.5,2008.86,2.5,2008.9,1.0,2008.95,1.8,2009.0,3.0,2009.05,2.2,2009.1,1.4,2009.16,1.0,2009.24,0.8,2009.35,0.7,2009.5,0.6,2009.7,0.45,2009.9,0.35,2010.1,0.3,2010.3,0.28,2010.5,0.4,2010.62,1.0,2010.7,0.6,2010.85,0.35,2011.0,0.25,2011.3,0.2,2011.6,0.15,2011.72,0.3,2011.9,0.15,2012.3,0.12,2012.7,0.08,2013.1,0.05,2013.5,0.08,2014.0,0.05];
const clrlBond11 = [2004.3,3.2,2004.35,3.6,2004.4,3.2,2004.46,3.5,2004.52,3.0,2004.58,3.4,2004.64,3.0,2004.7,2.8,2004.77,3.2,2004.84,2.8,2004.91,3.1,2004.98,2.6,2005.05,2.9,2005.12,2.7,2005.2,3.1,2005.28,2.9,2005.36,3.4,2005.44,3.6,2005.52,3.9,2005.58,3.5,2005.65,3.1,2005.72,2.8,2005.8,2.6,2005.88,2.4,2005.96,2.5,2006.04,2.2,2006.12,2.3,2006.2,2.0,2006.28,2.2,2006.36,1.9,2006.44,2.1,2006.52,1.9,2006.6,1.7,2006.68,1.9,2006.76,1.7,2006.84,2.0,2006.92,2.2,2007.0,2.0,2007.08,1.7,2007.16,1.8,2007.24,1.5,2007.32,1.6,2007.4,1.4,2007.5,1.3,2007.6,1.35,2007.7,1.15,2007.8,1.2,2007.92,1.0,2008.05,0.95,2008.2,0.9,2008.35,0.8,2008.5,0.75,2008.65,0.9,2008.75,1.6,2008.81,3.0,2008.86,2.2,2008.91,2.6,2008.96,1.8,2009.01,2.9,2009.06,3.8,2009.11,2.8,2009.17,2.4,2009.24,2.9,2009.31,2.5,2009.38,2.7,2009.46,2.2,2009.54,2.4,2009.62,2.0,2009.7,1.9,2009.8,1.6,2009.9,1.4,2010.0,1.2,2010.12,1.0,2010.24,1.1,2010.36,1.0,2010.48,1.5,2010.56,2.2,2010.63,3.0,2010.7,2.3,2010.8,1.6,2010.9,1.2,2011.0,1.0,2011.15,0.9,2011.3,0.95,2011.45,1.1,2011.55,1.3,2011.65,1.6,2011.72,2.0,2011.8,1.6,2011.9,1.7,2012.0,1.8,2012.12,1.6,2012.25,1.7,2012.38,1.5,2012.5,1.6,2012.62,1.5,2012.75,1.2,2012.88,0.9,2013.0,0.6,2013.12,0.5,2013.25,0.45,2013.38,0.7,2013.46,1.3,2013.52,1.0,2013.62,0.9,2013.72,1.1,2013.82,0.9,2013.92,1.0,2014.0,0.95];
const clrlBond12 = [2006.9,3.6,2006.95,3.9,2007.0,3.6,2007.04,4.2,2007.08,3.7,2007.13,3.3,2007.18,3.8,2007.23,3.4,2007.28,3.6,2007.33,3.1,2007.38,3.5,2007.43,2.9,2007.49,2.6,2007.55,2.4,2007.62,2.3,2007.7,2.1,2007.78,2.0,2007.86,1.9,2007.95,1.8,2008.05,1.7,2008.15,1.6,2008.25,1.5,2008.35,1.4,2008.45,1.3,2008.55,1.2,2008.65,1.1,2008.74,1.4,2008.8,2.2,2008.85,1.6,2008.9,3.0,2008.95,2.2,2009.0,4.0,2009.05,5.2,2009.1,3.0,2009.15,2.4,2009.2,1.9,2009.28,1.4,2009.38,1.0,2009.5,0.7,2009.65,0.5,2009.8,0.4,2010.0,0.3,2010.25,0.25,2010.5,0.35,2010.63,0.8,2010.72,0.4,2010.9,0.25,2011.2,0.2,2011.5,0.18,2011.72,0.3,2011.9,0.15,2012.3,0.12,2012.7,0.1,2013.1,0.05,2013.47,0.3,2013.6,0.1,2014.0,0.1];
const clrlBond13 = [2005.05,3.3,2005.1,2.9,2005.15,3.2,2005.2,2.8,2005.25,3.4,2005.3,3.2,2005.36,3.7,2005.42,3.5,2005.47,4.1,2005.52,4.5,2005.56,4.2,2005.6,3.9,2005.65,3.6,2005.7,3.7,2005.76,3.2,2005.82,3.0,2005.88,3.2,2005.94,2.8,2006.0,2.9,2006.07,2.6,2006.14,2.8,2006.21,2.5,2006.28,2.6,2006.35,2.3,2006.42,2.5,2006.5,2.2,2006.58,2.3,2006.66,2.0,2006.74,2.1,2006.82,1.9,2006.9,2.0,2006.98,2.3,2007.05,1.9,2007.12,1.6,2007.2,1.5,2007.28,1.7,2007.36,1.4,2007.44,1.5,2007.52,1.2,2007.6,1.3,2007.68,1.1,2007.76,1.15,2007.85,1.0,2007.95,0.95,2008.05,0.85,2008.15,0.8,2008.25,0.7,2008.35,0.6,2008.45,0.5,2008.55,0.45,2008.65,0.4,2008.74,0.6,2008.8,1.2,2008.85,0.8,2008.9,1.8,2008.95,1.0,2009.0,1.6,2009.05,2.2,2009.1,1.4,2009.14,3.5,2009.18,5.8,2009.21,3.0,2009.25,2.4,2009.29,3.6,2009.33,2.2,2009.38,2.8,2009.44,1.8,2009.5,2.1,2009.58,1.6,2009.66,1.8,2009.75,1.5,2009.85,1.3,2009.95,1.4,2010.05,1.1,2010.15,1.0,2010.25,1.15,2010.35,0.9,2010.45,1.1,2010.55,1.4,2010.62,2.2,2010.68,1.8,2010.75,1.3,2010.85,1.0,2010.95,0.85,2011.1,0.8,2011.25,0.75,2011.4,0.9,2011.5,1.4,2011.58,1.0,2011.66,1.6,2011.72,2.6,2011.78,1.8,2011.85,1.5,2011.92,1.6,2012.0,1.4,2012.1,1.3,2012.2,1.35,2012.3,1.2,2012.4,1.25,2012.5,1.1,2012.6,1.0,2012.7,0.9,2012.8,0.7,2012.9,0.6,2013.0,0.5,2013.1,0.4,2013.2,0.35,2013.3,0.3,2013.4,0.6,2013.46,2.4,2013.52,1.6,2013.58,1.0,2013.65,1.2,2013.72,1.0,2013.8,1.3,2013.88,1.1,2013.95,1.4,2014.0,1.35];
const clrlBond14 = [2005.05,3.8,2005.1,3.5,2005.16,3.9,2005.22,3.6,2005.28,4.2,2005.34,3.9,2005.4,4.4,2005.46,4.7,2005.52,5.1,2005.56,4.7,2005.61,4.3,2005.66,4.4,2005.72,3.9,2005.78,3.6,2005.84,3.8,2005.9,3.4,2005.96,3.5,2006.03,3.2,2006.1,3.4,2006.17,3.1,2006.24,3.3,2006.31,2.9,2006.38,3.0,2006.45,2.8,2006.52,3.0,2006.6,2.7,2006.68,2.9,2006.76,2.6,2006.84,2.8,2006.92,2.6,2007.0,3.0,2007.08,2.7,2007.16,2.5,2007.24,2.7,2007.32,2.4,2007.4,2.6,2007.48,2.5,2007.56,3.2,2007.62,2.9,2007.68,3.3,2007.74,3.0,2007.8,3.4,2007.86,2.9,2007.92,3.2,2007.98,2.8,2008.05,3.3,2008.12,2.9,2008.19,3.1,2008.26,2.6,2008.34,2.4,2008.42,2.2,2008.5,2.1,2008.58,2.0,2008.66,2.3,2008.73,3.0,2008.78,3.8,2008.83,5.0,2008.87,6.4,2008.91,4.6,2008.95,5.6,2009.0,4.8,2009.04,6.6,2009.08,8.0,2009.12,6.0,2009.16,5.3,2009.2,6.9,2009.24,5.8,2009.28,7.2,2009.32,5.4,2009.37,6.1,2009.42,5.0,2009.47,5.9,2009.52,5.2,2009.57,6.1,2009.62,5.0,2009.68,5.6,2009.74,4.6,2009.8,5.1,2009.87,4.2,2009.94,4.4,2010.02,3.6,2010.1,3.4,2010.18,2.9,2010.26,3.2,2010.34,2.8,2010.42,3.3,2010.5,3.9,2010.56,5.0,2010.62,6.6,2010.66,7.5,2010.71,6.0,2010.76,5.2,2010.82,4.5,2010.88,3.6,2010.95,3.2,2011.03,2.8,2011.11,2.6,2011.19,2.9,2011.27,2.5,2011.35,3.2,2011.42,3.6,2011.48,3.0,2011.55,2.7,2011.6,3.6,2011.65,5.6,2011.69,7.6,2011.72,8.7,2011.75,6.8,2011.8,5.8,2011.85,6.2,2011.9,5.7,2011.95,6.0,2012.0,5.5,2012.06,5.8,2012.12,5.2,2012.18,4.8,2012.24,4.6,2012.3,4.3,2012.36,4.6,2012.42,4.2,2012.48,4.5,2012.54,4.8,2012.6,4.5,2012.66,4.2,2012.72,3.6,2012.78,3.2,2012.84,2.9,2012.9,2.6,2012.96,2.5,2013.02,2.3,2013.1,2.2,2013.18,2.0,2013.26,2.1,2013.34,2.3,2013.4,3.2,2013.46,4.8,2013.52,4.0,2013.58,3.6,2013.64,5.2,2013.7,5.5,2013.75,4.4,2013.8,4.0,2013.85,4.6,2013.9,3.9,2013.95,4.8,2014.0,4.65];
const clrlBond15 = [2007.45,2.9,2007.5,3.3,2007.56,3.0,2007.62,3.5,2007.68,3.1,2007.74,3.4,2007.8,3.0,2007.86,3.5,2007.92,3.2,2007.98,3.6,2008.04,3.3,2008.1,3.1,2008.17,3.4,2008.24,2.9,2008.31,2.7,2008.38,2.6,2008.45,2.8,2008.52,2.5,2008.6,2.7,2008.67,3.0,2008.73,3.8,2008.78,4.8,2008.83,6.0,2008.87,5.0,2008.91,7.2,2008.95,5.4,2009.0,6.3,2009.04,5.0,2009.09,7.8,2009.13,6.0,2009.18,5.0,2009.23,5.6,2009.28,4.6,2009.34,4.9,2009.4,4.2,2009.47,4.5,2009.54,3.8,2009.62,4.0,2009.7,3.5,2009.78,3.6,2009.86,3.1,2009.95,3.0,2010.04,2.7,2010.12,2.5,2010.2,2.7,2010.28,2.5,2010.36,3.0,2010.44,3.6,2010.52,4.2,2010.58,5.5,2010.63,7.0,2010.68,6.0,2010.74,5.0,2010.8,4.2,2010.88,3.5,2010.96,3.0,2011.04,2.7,2011.12,2.5,2011.2,2.7,2011.28,2.4,2011.36,2.9,2011.44,3.3,2011.52,3.0,2011.6,3.6,2011.66,4.6,2011.72,5.0,2011.78,4.4,2011.84,4.9,2011.9,4.6,2011.96,5.0,2012.02,4.8,2012.1,4.9,2012.18,4.6,2012.26,4.8,2012.34,5.0,2012.42,5.3,2012.5,5.1,2012.56,5.2,2012.62,4.8,2012.68,4.4,2012.74,3.8,2012.8,3.4,2012.86,3.0,2012.92,2.8,2013.0,2.5,2013.08,2.2,2013.16,2.0,2013.24,1.9,2013.32,2.1,2013.4,2.6,2013.46,3.6,2013.52,3.2,2013.58,2.8,2013.64,3.1,2013.7,3.4,2013.76,3.0,2013.82,3.3,2013.88,3.1,2013.94,3.5,2014.0,3.6];
const clrlBond16 = [2008.7,0.8,2008.74,1.5,2008.78,3.0,2008.82,5.2,2008.86,3.0,2008.9,6.0,2008.94,4.0,2008.97,8.8,2009.0,5.0,2009.03,7.2,2009.06,3.6,2009.1,6.5,2009.14,4.2,2009.18,3.0,2009.22,4.4,2009.27,2.8,2009.33,3.0,2009.4,2.4,2009.48,2.6,2009.56,2.1,2009.65,2.2,2009.74,1.8,2009.84,1.6,2009.94,1.5,2010.04,1.3,2010.14,1.2,2010.24,1.3,2010.34,1.1,2010.44,1.5,2010.52,2.2,2010.58,3.5,2010.63,5.2,2010.68,4.0,2010.74,2.8,2010.82,2.0,2010.9,1.5,2011.0,1.2,2011.1,1.0,2011.2,0.9,2011.3,0.85,2011.4,0.9,2011.5,0.8,2011.6,1.0,2011.68,1.4,2011.72,2.0,2011.78,1.3,2011.86,1.0,2011.95,1.1,2012.05,0.95,2012.15,1.0,2012.25,0.9,2012.35,0.85,2012.45,0.9,2012.55,0.8,2012.65,0.7,2012.75,0.55,2012.85,0.45,2012.95,0.35,2013.05,0.3,2013.15,0.25,2013.25,0.2,2013.35,0.25,2013.45,0.7,2013.52,0.5,2013.6,0.35,2013.7,0.3,2013.8,0.35,2013.9,0.3,2014.0,0.3];
const clrlBond17 = [2008.68,2.4,2008.72,4.0,2008.75,7.0,2008.78,13.2,2008.8,9.0,2008.82,6.0,2008.84,12.0,2008.86,22.5,2008.88,15.0,2008.9,10.0,2008.92,12.5,2008.94,17.0,2008.96,11.0,2008.98,8.0,2009.0,11.0,2009.02,14.0,2009.05,9.0,2009.08,6.0,2009.11,7.5,2009.14,8.2,2009.17,5.5,2009.2,4.5,2009.24,5.8,2009.28,4.6,2009.33,5.2,2009.38,4.4,2009.44,4.8,2009.5,4.0,2009.57,4.3,2009.64,3.7,2009.71,3.9,2009.78,3.4,2009.86,3.3,2009.94,3.0,2010.02,2.9,2010.1,2.7,2010.18,2.9,2010.26,2.8,2010.34,3.2,2010.42,3.8,2010.5,4.6,2010.56,6.5,2010.6,8.2,2010.64,10.0,2010.67,8.5,2010.71,7.0,2010.76,5.8,2010.82,4.6,2010.88,4.0,2010.95,3.5,2011.03,3.2,2011.11,3.0,2011.19,3.2,2011.27,2.9,2011.35,3.4,2011.43,3.8,2011.51,3.5,2011.59,3.9,2011.65,4.6,2011.72,5.4,2011.78,4.8,2011.84,5.2,2011.9,4.9,2011.96,5.1,2012.02,4.7,2012.1,4.8,2012.18,4.5,2012.26,4.7,2012.34,4.6,2012.42,4.9,2012.5,5.0,2012.58,5.3,2012.64,5.6,2012.7,5.2,2012.76,4.5,2012.82,4.0,2012.88,3.6,2012.94,3.2,2013.0,3.0,2013.08,2.7,2013.16,2.5,2013.24,2.4,2013.32,2.6,2013.4,3.2,2013.46,4.4,2013.52,3.9,2013.58,3.5,2013.64,4.0,2013.7,4.4,2013.76,3.9,2013.82,4.2,2013.88,3.9,2013.94,4.3,2014.0,4.1];
const clrlBond18 = [2008.92,2.0,2008.96,6.0,2008.99,10.0,2009.02,14.5,2009.05,9.0,2009.08,12.0,2009.1,17.2,2009.13,13.0,2009.16,9.0,2009.19,10.8,2009.22,7.5,2009.25,6.5,2009.28,8.0,2009.32,5.5,2009.36,5.0,2009.41,6.0,2009.46,4.8,2009.52,4.3,2009.58,4.6,2009.65,3.8,2009.72,3.6,2009.8,3.0,2009.88,2.6,2009.96,2.2,2010.05,1.8,2010.14,1.6,2010.22,1.7,2010.3,1.5,2010.38,1.8,2010.46,2.3,2010.54,3.0,2010.6,4.0,2010.64,5.0,2010.69,4.0,2010.75,3.0,2010.82,2.4,2010.9,2.0,2010.98,1.7,2011.06,1.5,2011.14,1.4,2011.22,1.3,2011.3,1.5,2011.36,2.4,2011.42,3.3,2011.48,2.6,2011.55,2.2,2011.62,2.8,2011.68,3.6,2011.74,4.0,2011.8,3.4,2011.86,3.7,2011.92,3.3,2012.0,3.5,2012.08,3.2,2012.16,3.4,2012.24,3.0,2012.32,3.2,2012.4,3.0,2012.48,3.3,2012.56,3.0,2012.64,2.7,2012.72,2.3,2012.8,2.0,2012.88,1.7,2012.96,1.5,2013.04,1.3,2013.12,1.1,2013.2,0.9,2013.28,0.8,2013.36,1.2,2013.42,3.0,2013.46,6.6,2013.5,4.6,2013.54,3.0,2013.6,2.2,2013.66,2.0,2013.72,1.8,2013.8,1.7,2013.88,1.5,2013.95,1.7,2014.0,1.6];

// Colour cycle of the series (R's default palette 1..6)
const seriesColors = ["#000000", "#FF0000", "#00CD00", "#0000FF", "#00FFFF", "#FF00FF"];

// Axis ticks and labels
const yearTicks = [1998, 2000, 2002, 2004, 2006, 2008, 2010, 2012, 2014];
const yearLabels = [1998, 2002, 2006, 2010, 2014];
const yearSpan = [1997, 2014];
const clrTicks = [0, 100, 200, 300];
const clrlTicks = [0, 10, 20, 30];
const clrLimits = [0, 300];
const clrlLimits = [0, 30];
const yAxisTitle = "Yield spread in basis points";
const captionA = "(a) CLR model, option adjusted.";
const captionB = "(b) CLR-L model, option adjusted.";

const clrSeries = [clrBond01, clrBond02, clrBond03, clrBond04, clrBond05, clrBond06, clrBond07, clrBond08, clrBond09,
                   clrBond10, clrBond11, clrBond12, clrBond13, clrBond14, clrBond15, clrBond16, clrBond17, clrBond18];
const clrlSeries = [clrlBond01, clrlBond02, clrlBond03, clrlBond04, clrlBond05, clrlBond06, clrlBond07, clrlBond08, clrlBond09,
                    clrlBond10, clrlBond11, clrlBond12, clrlBond13, clrlBond14, clrlBond15, clrlBond16, clrlBond17, clrlBond18];

// ---------- drawing ----------
const svg = d3.select("#fig");
const SANS = "'Liberation Sans', Arial, Helvetica, sans-serif";
const SERIF = "'Liberation Serif', 'Times New Roman', serif";

// R-style axis padding: 4% on each side
function padded([a, b]) { const p = (b - a) * 0.04; return [a - p, b + p]; }
function toPairs(flat) { const out = []; for (let i = 0; i < flat.length; i += 2) out.push([flat[i], flat[i + 1]]); return out; }

function drawPanel(id, box, series, ticks, limits) {
  const g = svg.append("g");
  const x = d3.scaleLinear().domain(padded(yearSpan)).range([box.left, box.right]);
  const y = d3.scaleLinear().domain(padded(limits)).range([box.bottom, box.top]);

  g.append("clipPath").attr("id", "clip-" + id)
    .append("rect").attr("x", box.left).attr("y", box.top)
    .attr("width", box.right - box.left).attr("height", box.bottom - box.top);

  // zero reference line
  g.append("line")
    .attr("x1", box.left).attr("x2", box.right)
    .attr("y1", y(0)).attr("y2", y(0))
    .attr("stroke", "#555").attr("stroke-width", 1).attr("stroke-dasharray", "1.2,3");

  const line = d3.line().x(d => x(d[0])).y(d => y(d[1]));
  const lines = g.append("g").attr("clip-path", `url(#clip-${id})`);
  series.forEach((s, i) => {
    lines.append("path")
      .attr("d", line(toPairs(s)))
      .attr("fill", "none")
      .attr("stroke", seriesColors[i % seriesColors.length])
      .attr("stroke-width", 2)
      .attr("stroke-linejoin", "round")
      .attr("stroke-linecap", "butt");
  });

  // plot frame
  g.append("rect")
    .attr("x", box.left).attr("y", box.top)
    .attr("width", box.right - box.left).attr("height", box.bottom - box.top)
    .attr("fill", "none").attr("stroke", "#222").attr("stroke-width", 1);

  // bottom axis
  const xAxis = d3.axisBottom(x).tickValues(yearTicks).tickSizeInner(8).tickSizeOuter(0)
    .tickFormat(v => yearLabels.includes(v) ? String(v) : "");
  const gx = g.append("g").attr("transform", `translate(0,${box.bottom})`).call(xAxis);
  gx.select(".domain").remove();
  gx.selectAll(".tick line").attr("stroke", "#222");
  gx.selectAll(".tick text").attr("y", 29.5).attr("dy", null)
    .attr("font-family", SANS).attr("font-size", 17.5).attr("fill", "#111");

  // left axis
  const yAxis = d3.axisLeft(y).tickValues(ticks).tickSizeInner(8).tickSizeOuter(0).tickFormat(d3.format("d"));
  const gy = g.append("g").attr("transform", `translate(${box.left},0)`).call(yAxis);
  gy.select(".domain").remove();
  gy.selectAll(".tick line").attr("stroke", "#222");
  gy.selectAll(".tick text")
    .attr("x", null).attr("dy", null)
    .attr("text-anchor", "middle")
    .attr("transform", "translate(-20,0) rotate(-90)")
    .attr("font-family", SANS).attr("font-size", 17.5).attr("fill", "#111");

  // axis title
  const cy = (box.top + box.bottom) / 2;
  g.append("text")
    .attr("transform", `translate(${box.left - 54},${cy}) rotate(-90)`)
    .attr("text-anchor", "middle")
    .attr("font-family", SANS).attr("font-size", 17.5).attr("fill", "#111")
    .text(yAxisTitle);
}

drawPanel("a", { left: 73.3, right: 531.7, top: 7.3, bottom: 417.3 }, clrSeries, clrTicks, clrLimits);
drawPanel("b", { left: 661.7, right: 1120, top: 7.3, bottom: 417.3 }, clrlSeries, clrlTicks, clrlLimits);

// sub-figure captions
[[captionA, 285, 356], [captionB, 862, 371]].forEach(([txt, cx, w]) => {
  svg.append("text")
    .attr("x", cx).attr("y", 532)
    .attr("text-anchor", "middle")
    .attr("font-family", SERIF).attr("font-size", 26.5).attr("fill", "#111")
    .attr("textLength", w).attr("lengthAdjust", "spacingAndGlyphs")
    .text(txt);
});
</script>
</body></html>
